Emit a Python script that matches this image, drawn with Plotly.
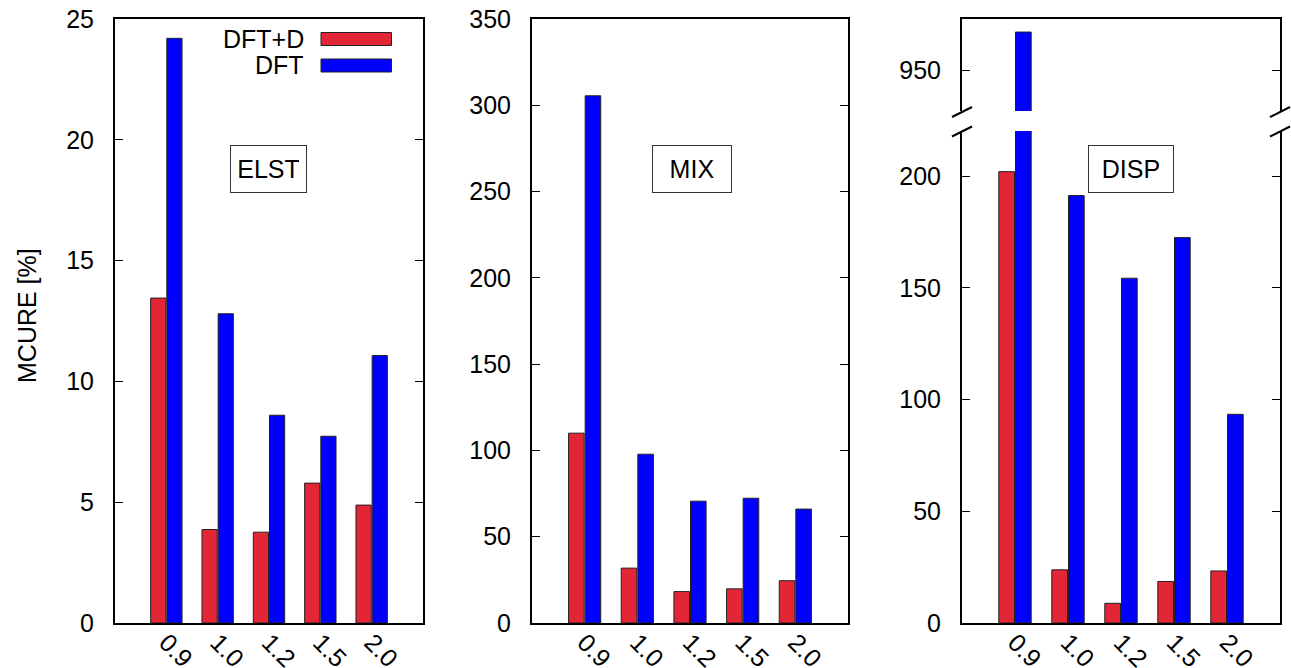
import plotly.graph_objects as go

# ---------------- data ----------------
categories = ["0.9", "1.0", "1.2", "1.5", "2.0"]
series_names = ["DFT+D", "DFT"]

elst_dftd = [13.45, 3.87, 3.76, 5.79, 4.88]
elst_dft = [24.2, 12.8, 8.6, 7.73, 11.07]

mix_dftd = [110.0, 31.8, 18.2, 19.8, 24.5]
mix_dft = [305.5, 97.8, 70.6, 72.3, 66.0]

disp_dftd = [202.0, 23.8, 8.8, 18.6, 23.3]
disp_dft = [967.3, 191.3, 154.3, 172.5, 93.4]

panel_labels = ["ELST", "MIX", "DISP"]

# ---------------- style ----------------
W, H = 1291, 668
RED = "#E32636"
BLUE = "#0000FF"
FONT = "Liberation Sans, Arial, sans-serif"
FS = 25

def px(x):
    return x / W

def py(y):
    return 1 - y / H

xpos = list(range(len(categories)))

fig = go.Figure()

def add_pair(red_vals, blue_vals, xa, ya):
    fig.add_trace(go.Bar(x=xpos, y=red_vals, name=series_names[0], xaxis=xa, yaxis=ya,
                         marker=dict(color=RED, line=dict(color="#222222", width=1)),
                         showlegend=False))
    fig.add_trace(go.Bar(x=xpos, y=blue_vals, name=series_names[1], xaxis=xa, yaxis=ya,
                         marker=dict(color=BLUE, line=dict(color="#222222", width=1)),
                         showlegend=False))

add_pair(elst_dftd, elst_dft, "x", "y")
add_pair(mix_dftd, mix_dft, "x2", "y2")
add_pair(disp_dftd, disp_dft, "x3", "y3")
add_pair(disp_dftd, disp_dft, "x4", "y4")

tickfont = dict(family=FONT, size=FS, color="black")

def xax(domain, anchor, show_labels=True, mirror=True, side="bottom", matches=None):
    d = dict(domain=domain, anchor=anchor, range=[-1, 5], tickmode="array",
             tickvals=xpos, ticktext=categories, tickangle=45, ticks="",
             showline=True, linecolor="black", linewidth=2, mirror=mirror,
             showgrid=False, zeroline=False, tickfont=tickfont, automargin=False,
             ticklabelstandoff=-7,
             showticklabels=show_labels, side=side, fixedrange=True)
    if matches:
        d["matches"] = matches
    return d

def yax(domain, anchor, rng, tickvals):
    return dict(domain=domain, anchor=anchor, range=rng, tickmode="array",
                tickvals=tickvals, ticks="inside", ticklen=8, tickwidth=1,
                tickcolor="black", showline=True, linecolor="black", linewidth=2,
                mirror="ticks", showgrid=False, zeroline=False, tickfont=tickfont,
                ticklabelstandoff=14, automargin=False, fixedrange=True)

y_main = [py(623), py(19)]

fig.update_layout(
    width=W, height=H,
    margin=dict(l=0, r=0, t=0, b=0, autoexpand=False),
    paper_bgcolor="white", plot_bgcolor="white",
    barmode="group", bargap=0.37, bargroupgap=0.06,
    font=dict(family=FONT, size=FS, color="black"),
    xaxis=xax([px(115), px(423)], "y"),
    yaxis=yax(y_main, "x", [0, 25], [0, 5, 10, 15, 20, 25]),
    xaxis2=xax([px(532), px(848)], "y2"),
    yaxis2=yax(y_main, "x2", [0, 350], [0, 50, 100, 150, 200, 250, 300, 350]),
    xaxis3=xax([px(962), px(1280)], "y3", mirror=False),
    yaxis3=yax([py(623), py(131)], "x3", [0, 220.2], [0, 50, 100, 150, 200]),
    xaxis4=xax([px(962), px(1280)], "y4", show_labels=False, mirror=False, side="top",
               matches="x3"),
    yaxis4=yax([py(111), py(19)], "x4", [931.95, 973.15], [950]),
)

annotations = []
# y axis title
annotations.append(dict(text="MCURE [%]", x=px(27), y=py(316), xref="paper", yref="paper",
                        xanchor="center", yanchor="middle",
                        showarrow=False, textangle=-90, font=dict(family=FONT, size=FS)))
# panel labels (boxed)
for label, cx, w in zip(panel_labels, [268.5, 692, 1131], [61, 64, 70]):
    annotations.append(dict(text=label, x=px(cx), y=py(169), xref="paper", yref="paper",
                            xanchor="center", yanchor="middle",
                            showarrow=False, bordercolor="#333333", borderwidth=1,
                            borderpad=7, width=w, height=32,
                            font=dict(family=FONT, size=FS)))
# manual legend (text left of colour sample, as in the reference)
for name, cy in zip(series_names, [39, 65]):
    annotations.append(dict(text=name, x=px(306), y=py(cy), xref="paper", yref="paper",
                            xanchor="right", yanchor="middle", showarrow=False,
                            height=26, font=dict(family=FONT, size=FS)))
fig.update_layout(annotations=annotations)

shapes = []
for color, (y0, y1) in zip([RED, BLUE], [(32.5, 45.5), (59, 72)]):
    shapes.append(dict(type="rect", xref="paper", yref="paper",
                       x0=px(321), x1=px(391.5), y0=py(y1), y1=py(y0),
                       fillcolor=color, line=dict(color="#222222", width=1)))
# axis break marks on panel 3
for xc in (962, 1280):
    for yc in (112, 131.5):
        shapes.append(dict(type="line", xref="paper", yref="paper",
                           x0=px(xc - 10), y0=py(yc + 5), x1=px(xc + 10), y1=py(yc - 5),
                           line=dict(color="black", width=2)))
fig.update_layout(shapes=shapes)

fig.write_html("out.html")
